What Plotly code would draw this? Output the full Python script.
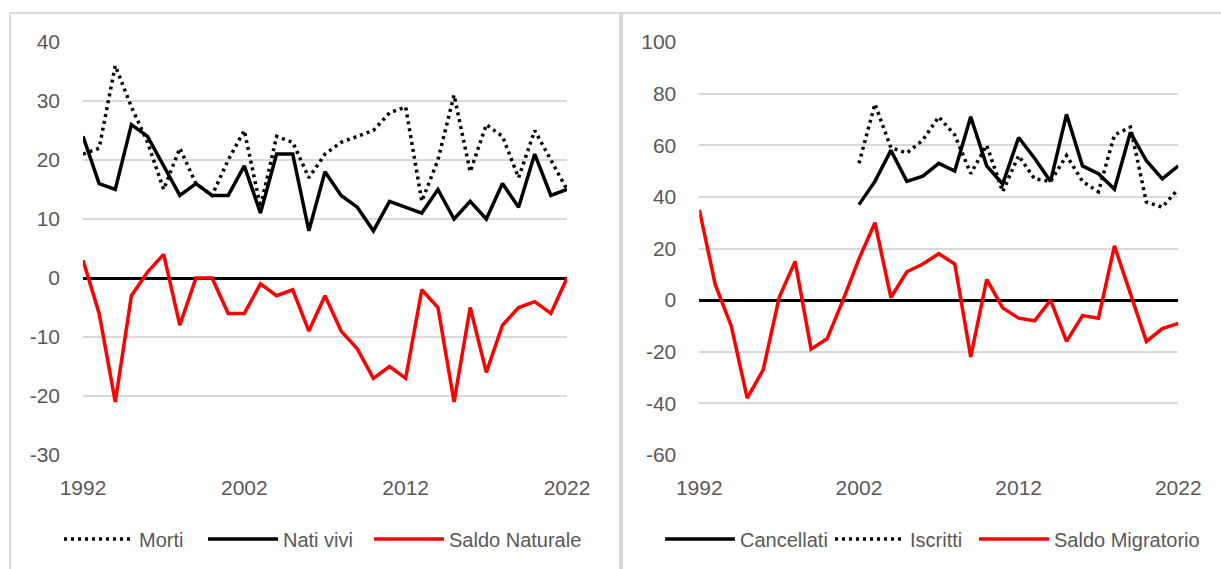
import plotly.graph_objects as go

years = list(range(1992, 2023))
tick_years = [1992, 2002, 2012, 2022]
left_yticks = [-30, -20, -10, 0, 10, 20, 30, 40]
right_yticks = [-60, -40, -20, 0, 20, 40, 60, 80, 100]

# Left panel: natural balance
morti = [21, 22, 36, 29, 23, 15, 22, 16, 14, 20, 25, 12, 24, 23, 17, 21,
         23, 24, 25, 28, 29, 13, 20, 31, 18, 26, 24, 17, 25, 20, 15]
nati_vivi = [24, 16, 15, 26, 24, 19, 14, 16, 14, 14, 19, 11, 21, 21, 8, 18,
             14, 12, 8, 13, 12, 11, 15, 10, 13, 10, 16, 12, 21, 14, 15]
saldo_naturale = [3, -6, -21, -3, 1, 4, -8, 0, 0, -6, -6, -1, -3, -2, -9, -3,
                  -9, -12, -17, -15, -17, -2, -5, -21, -5, -16, -8, -5, -4, -6, 0]

# Right panel: migratory balance
cancellati = [None] * 10 + [37, 46, 58, 46, 48, 53, 50, 71, 52, 45, 63, 55,
                            46, 72, 52, 49, 43, 65, 54, 47, 52]
iscritti = [None] * 10 + [53, 76, 59, 57, 62, 71, 64, 49, 60, 42, 56, 47,
                          46, 56, 46, 42, 64, 67, 38, 36, 43]
saldo_migratorio = [35, 6, -10, -38, -27, 1, 15, -19, -15, 0, 16, 30, 1, 11, 14, 18,
                    14, -22, 8, -3, -7, -8, 0, -16, -6, -7, 21, 2, -16, -11, -9]

W, H = 1221, 569
FONT = "Liberation Sans, Arial, sans-serif"
GREY = "#595959"
GRID = "#d9d9d9"
LW = 3.5


def px_x(v):
    return v / W


def px_y(v):
    return 1 - v / H


fig = go.Figure()

dot = "3px,4px"

# (name, values, color, dash, axis suffix, legend id, legend x in px)
series = [
    ("Morti", morti, "black", dot, "", "legend", 59),
    ("Nati vivi", nati_vivi, "black", None, "", "legend2", 203),
    ("Saldo Naturale", saldo_naturale, "#ff0000", None, "", "legend3", 369),
    ("Cancellati", cancellati, "black", None, "2", "legend4", 660),
    ("Iscritti", iscritti, "black", dot, "2", "legend5", 830),
    ("Saldo Migratorio", saldo_migratorio, "#ff0000", None, "2", "legend6", 974),
]

legends = {}
for name, vals, color, dash, ax, leg, lx in series:
    line = dict(color=color, width=LW)
    if dash:
        line["dash"] = dash
    fig.add_trace(go.Scatter(x=years, y=vals, name=name, mode="lines", line=line,
                             xaxis="x" + ax, yaxis="y" + ax, legend=leg))
    legends[leg] = dict(orientation="h", x=px_x(lx), y=px_y(539), xanchor="left",
                        yanchor="middle", font=dict(family=FONT, size=20, color=GREY),
                        itemwidth=70, bgcolor="rgba(0,0,0,0)", borderwidth=0)

ydom = [px_y(455), px_y(42)]

xcommon = dict(tickmode="array", tickvals=tick_years, ticktext=[str(t) for t in tick_years],
               showgrid=False, zeroline=False, showline=False, ticks="",
               tickfont=dict(family=FONT, size=21, color=GREY), ticklabelstandoff=18,
               fixedrange=True, automargin=False)
ycommon = dict(showgrid=True, gridcolor=GRID, gridwidth=2, zeroline=True,
               zerolinecolor="black", zerolinewidth=3, showline=False, ticks="",
               tickfont=dict(family=FONT, size=21, color=GREY), ticklabelstandoff=22,
               fixedrange=True, automargin=False, tickmode="array")

fig.update_layout(
    width=W, height=H,
    margin=dict(l=0, r=0, t=0, b=0, pad=0, autoexpand=False),
    paper_bgcolor="white", plot_bgcolor="white",
    font=dict(family=FONT, color=GREY),
    xaxis=dict(domain=[px_x(83), px_x(567)], range=[1992, 2022], anchor="y", **xcommon),
    yaxis=dict(domain=ydom, range=[-30, 40], anchor="x", tickvals=left_yticks,
               ticktext=[str(v) for v in left_yticks], **ycommon),
    xaxis2=dict(domain=[px_x(699.3), px_x(1178.3)], range=[1992, 2022], anchor="y2", **xcommon),
    yaxis2=dict(domain=ydom, range=[-60, 100], anchor="x2", tickvals=right_yticks,
                ticktext=[str(v) for v in right_yticks], **ycommon),
    shapes=[
        dict(type="line", xref="paper", yref="paper", x0=px_x(10), x1=1, y0=px_y(13), y1=px_y(13),
             line=dict(color=GRID, width=2)),
        dict(type="line", xref="paper", yref="paper", x0=px_x(10), x1=px_x(10), y0=px_y(13), y1=0,
             line=dict(color=GRID, width=2)),
        dict(type="line", xref="paper", yref="paper", x0=px_x(621), x1=px_x(621), y0=px_y(13), y1=0,
             line=dict(color=GRID, width=4)),
    ],
    showlegend=True,
    **legends,
)

fig.write_html("out.html",
               config={"displayModeBar": False},
               post_script="document.body.style.margin='0';document.body.style.overflow='hidden';")
